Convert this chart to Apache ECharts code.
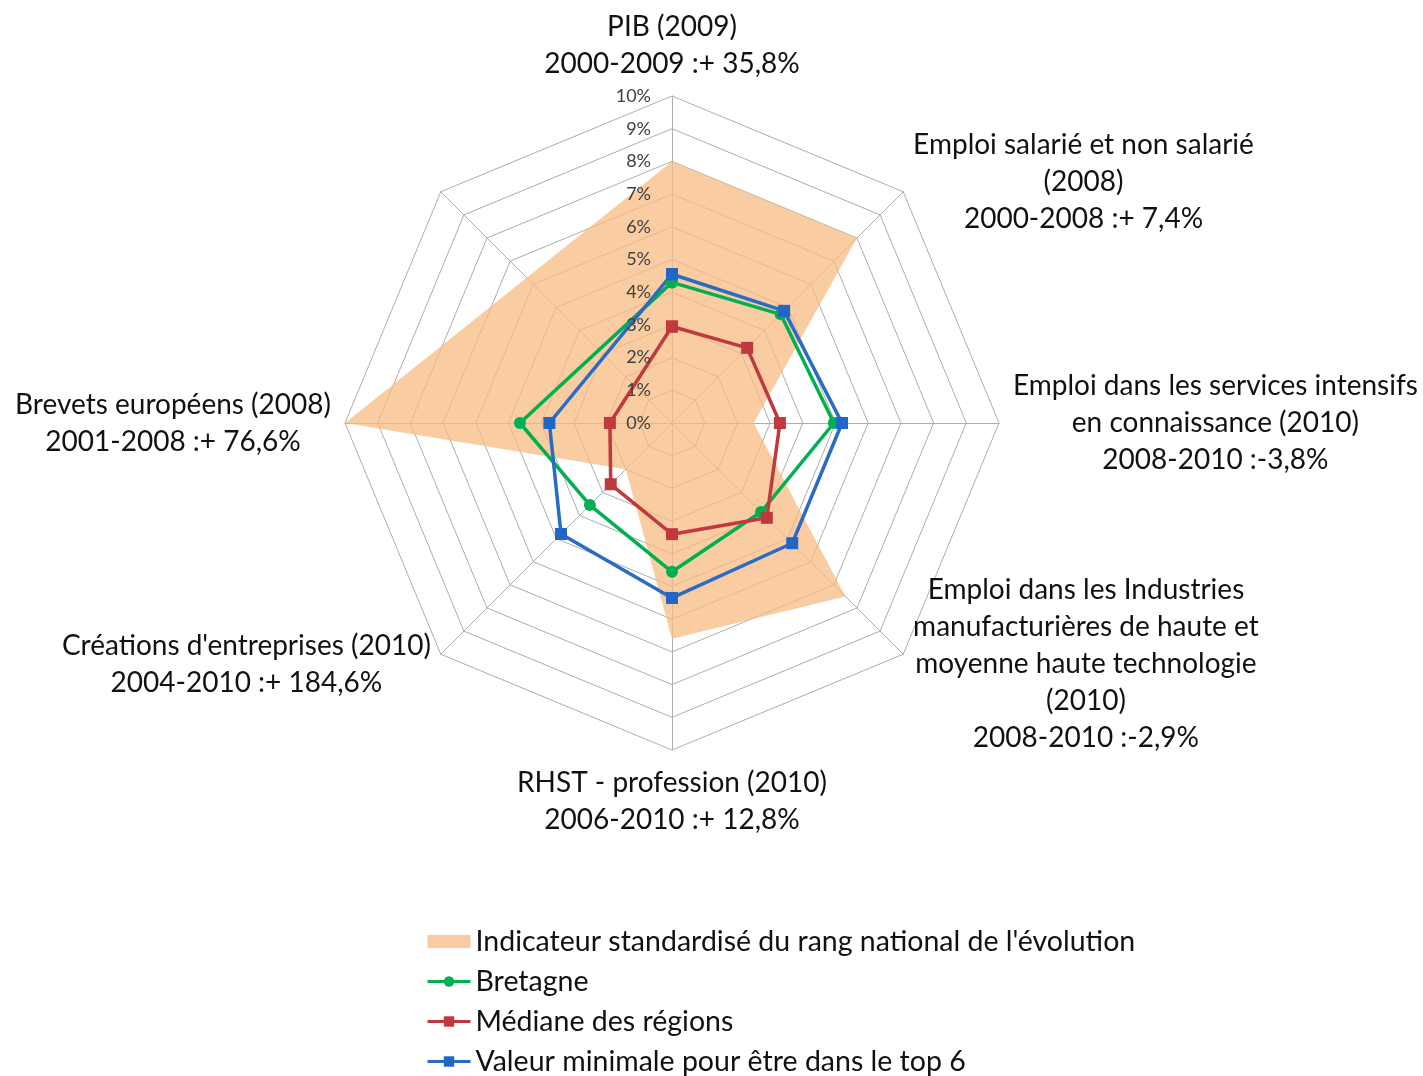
<!DOCTYPE html>
<html>
<head>
<meta charset="utf-8">
<script src="https://cdn.jsdelivr.net/npm/echarts@6/dist/echarts.min.js"></script>
<style>
  html, body { margin: 0; padding: 0; background: #fff; }
  #chart { width: 1423px; height: 1076px; }
</style>
</head>
<body>
<div id="chart"></div>
<script>
// Categories listed clockwise from the top; the last (upper-left) axis has no label and no data.
const categories = [
  'PIB (2009)\n2000-2009 :+ 35,8%',
  'Emploi salarié et non salarié\n(2008)\n2000-2008 :+ 7,4%',
  'Emploi dans les services intensifs\nen connaissance (2010)\n2008-2010 :-3,8%',
  'Emploi dans les Industries\nmanufacturières de haute et\nmoyenne haute technologie\n(2010)\n2008-2010 :-2,9%',
  'RHST - profession (2010)\n2006-2010 :+ 12,8%',
  "Créations d'entreprises (2010)\n2004-2010 :+ 184,6%",
  'Brevets européens (2008)\n2001-2008 :+ 76,6%',
  ''
];
const seriesNames = [
  "Indicateur standardisé du rang national de l'évolution",
  'Bretagne',
  'Médiane des régions',
  'Valeur minimale pour être dans le top 6'
];
const indicateurValues = [8.0, 8.0, 2.5, 7.5, 6.6, 2.0, 10.0, null];
const bretagneValues   = [4.3, 4.7, 4.95, 3.85, 4.55, 3.55, 4.65, null];
const medianeValues    = [2.95, 3.25, 3.3, 4.1, 3.4, 2.65, 1.9, null];
const top6Values       = [4.55, 4.85, 5.2, 5.2, 5.35, 4.8, 3.75, null];
const axisMin = 0, axisMax = 10, axisInterval = 1;

const FONT = 'Lato';
const n = categories.length;
const step = 360 / n;

// Build [radius, angle] pairs from category index; close the loop at 360°.
function toPolar(values) {
  const pts = [];
  values.forEach(function (v, i) { if (v != null) pts.push([v, i * step]); });
  if (values[0] != null) pts.push([values[0], 360]);
  return pts;
}

// ECharts radar lays indicators counter-clockwise: reverse order after the first.
const radarOrder = [0];
for (let i = n - 1; i >= 1; i--) radarOrder.push(i);

const center = [672, 423];
const radius = 327;

const chart = echarts.init(document.getElementById('chart'));
chart.setOption({
  animation: false,
  backgroundColor: '#ffffff',
  radar: {
    center: center,
    radius: radius,
    startAngle: 90,
    shape: 'polygon',
    splitNumber: (axisMax - axisMin) / axisInterval,
    indicator: radarOrder.map(function (i) { return { name: categories[i], min: axisMin, max: axisMax }; }),
    axisNameGap: 14,
    axisName: {
      formatter: function (value) {
        if (!value) return '';
        return value.split('\n').map(function (l) { return '{c|' + l + '}'; }).join('\n');
      },
      rich: {
        c: { fontFamily: FONT, fontSize: 28, lineHeight: 37, color: '#111111', align: 'center' }
      }
    },
    splitLine: { lineStyle: { color: '#ADADAD', width: 1 } },
    splitArea: { show: false },
    axisLine: { lineStyle: { color: '#ADADAD', width: 1 } },
    axisTick: { show: false },
    axisLabel: { show: false }
  },
  polar: { center: center, radius: radius },
  angleAxis: { type: 'value', min: 0, max: 360, startAngle: 90, clockwise: true, show: false },
  radiusAxis: {
    type: 'value', min: axisMin, max: axisMax, interval: axisInterval,
    z: 10,
    axisLine: { show: false }, axisTick: { show: false }, splitLine: { show: false },
    axisLabel: { formatter: '{value}%', margin: 21, fontFamily: FONT, fontSize: 18, color: '#404040' }
  },
  legend: {
    orient: 'vertical',
    left: 421,
    top: 922,
    height: 160,
    itemWidth: 43,
    itemHeight: 13,
    itemGap: 11,
    textStyle: { fontFamily: FONT, fontSize: 28.5, lineHeight: 28, color: '#111111' },
    data: [
      { name: seriesNames[0], icon: 'rect', itemStyle: { color: '#F9CBA2', borderWidth: 0 } },
      { name: seriesNames[1], lineStyle: { width: 3 } },
      { name: seriesNames[2], lineStyle: { width: 3 } },
      { name: seriesNames[3], lineStyle: { width: 3 } }
    ]
  },
  series: [
    {
      name: seriesNames[0], type: 'line', coordinateSystem: 'polar',
      data: toPolar(indicateurValues),
      symbol: 'none', clip: false, silent: true, z: 1,
      itemStyle: { color: '#F9CBA2' },
      lineStyle: { width: 0, opacity: 0 },
      areaStyle: { color: 'rgba(247,186,130,0.74)', opacity: 1 }
    },
    {
      name: seriesNames[1], type: 'line', coordinateSystem: 'polar',
      data: toPolar(bretagneValues),
      symbol: 'circle', symbolSize: 12, clip: false, z: 3,
      itemStyle: { color: '#00B050' },
      lineStyle: { color: '#00B050', width: 3.5 }
    },
    {
      name: seriesNames[2], type: 'line', coordinateSystem: 'polar',
      data: toPolar(medianeValues),
      symbol: 'rect', symbolSize: 12, clip: false, z: 3,
      itemStyle: { color: '#C0393E' },
      lineStyle: { color: '#C0393E', width: 3.5 }
    },
    {
      name: seriesNames[3], type: 'line', coordinateSystem: 'polar',
      data: toPolar(top6Values),
      symbol: 'rect', symbolSize: 12, clip: false, z: 3,
      itemStyle: { color: '#1F66C6' },
      lineStyle: { color: '#2A6CC4', width: 3.5 }
    }
  ]
});
</script>
</body>
</html>
